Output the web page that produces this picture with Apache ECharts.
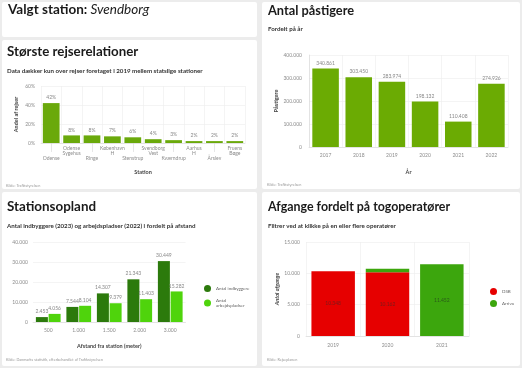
<!DOCTYPE html>
<html><head><meta charset="utf-8">
<script src="https://cdn.jsdelivr.net/npm/echarts@6/dist/echarts.min.js"></script>
<style>html,body{margin:0;padding:0;background:#ececec;}#c{width:522px;height:368px;}</style>
</head><body><div id="c"></div><script>
// ---- data ----
const relStations = ['Odense','Odense\nSygehus','Ringe','København\nH','Stenstrup','Svendborg\nVest','Kværndrup','Aarhus\nH','Årslev','Fruens\nBøge'];
const relShares = [42,8,8,7,6,4,3,2,2,2];
const relTicks = [0,20,40,60];
const boardYears = ['2017','2018','2019','2020','2021','2022'];
const boardings = [340861,303450,283974,198132,110408,274926];
const distances = ['500','1.000','1.500','2.000','3.000'];
const residents = [2453,7544,14307,21343,30449];
const jobs = [4056,8104,9379,11403,15282];
const depYears = ['2019','2020','2021'];
const depDSB = [10348,10162,null];
const depArriva = [null,562,11452];

const F = 'Lato, "Open Sans", sans-serif';
const fmt = n => String(n).replace(/\B(?=(\d{3})+(?!\d))/g,'.');
const axLab = {color:'#8c8c8c', fontSize:5, fontFamily:F};
const gridLine = {show:true, lineStyle:{color:'#ececec', width:0.6}};
const axLine = {show:true, lineStyle:{color:'#d6d6d6', width:0.6}};
const nameStyle = {color:'#444', fontSize:5.5, fontFamily:F, fontWeight:'bold'};

const chart = echarts.init(document.getElementById('c'), null, {renderer:'canvas'});

function card(x,y,w,h){return {type:'rect', shape:{x:x,y:y,width:w,height:h,r:2}, style:{fill:'#fff'}, z:-10, silent:true};}
function ttl(text,left,top,size){return {text:text,left:left,top:top,padding:0,textStyle:{fontFamily:F,fontSize:size,color:'#1a1a1a',fontWeight:'bold'}};}
function sub(text,left,top){return {text:text,left:left,top:top,padding:0,textStyle:{fontFamily:F,fontSize:6.2,color:'#333',fontWeight:'bold'}};}
function src(text,left,top){return {text:text,left:left,top:top,padding:0,textStyle:{fontFamily:F,fontSize:3.8,color:'#999',fontWeight:'normal'}};}

const option = {
  backgroundColor:'#ececec',
  animation:false,
  graphic:[card(2,2,255,35),card(2,40,255,149),card(262,2,258,187),card(2,192,255,174),card(262,192,258,174)],
  title:[
    {text:'{a|Valgt station: }{b|Svendborg}', left:8, top:3, padding:0, textStyle:{rich:{a:{fontFamily:F,fontSize:13.5,color:'#1a1a1a',fontWeight:'bold'},b:{fontFamily:F,fontSize:13.5,color:'#1a1a1a',fontStyle:'italic',fontWeight:'normal'}}}},
    ttl('Største rejserelationer',7,45,13.3),
    sub('Data dækker kun over rejser foretaget i 2019 mellem statslige stationer',7,68),
    src('Kilde: Trafikstyrelsen',6,184),
    ttl('Antal påstigere',268,4,12.8),
    sub('Fordelt på år',268,26),
    src('Kilde: Trafikstyrelsen',267,183),
    ttl('Stationsopland',7,200,13.4),
    sub('Antal indbyggere (2023) og arbejdspladser (2022) i fordelt på afstand',7,223),
    src('Kilde: Danmarks statistik, efterbehandlet af Trafikstyrelsen',6,358),
    ttl('Afgange fordelt på togoperatører',268,200.5,12.4),
    sub('Filtrer ved at klikke på en eller flere operatører',268,223),
    src('Kilde: Rejseplanen',267,358)
  ],
  legend:[
    {orient:'vertical', left:199, top:280, itemWidth:7, itemHeight:7, itemGap:6, icon:'circle',
     data:['Antal indbyggere','Antal arbejdspladser'],
     formatter:n => n==='Antal arbejdspladser' ? 'Antal\narbejdspladser' : n,
     textStyle:{fontFamily:F,fontSize:4.5,color:'#666',lineHeight:5}},
    {orient:'vertical', left:485, top:283, itemWidth:7, itemHeight:7, itemGap:5, icon:'circle',
     data:['DSB','Arriva'], textStyle:{fontFamily:F,fontSize:4.5,color:'#666'}}
  ],
  grid:[
    {left:41, top:86, width:204, height:57},
    {left:309, top:55, width:199, height:92},
    {left:33, top:242, width:152.5, height:80},
    {left:306, top:242, width:163, height:94}
  ],
  xAxis:[
    {gridIndex:0, type:'category', data:relStations,
     axisLine:axLine, splitLine:gridLine,
     axisTick:{show:true, alignWithLabel:true, length:9, interval:(i)=>i%2===0, lineStyle:{color:'#d6d6d6',width:0.6}},
     axisLabel:Object.assign({}, axLab, {interval:0, margin:3, lineHeight:5, formatter:(v,i)=> i%2===0 ? '\n\n'+v : v}),
     name:'Station', nameLocation:'middle', nameGap:26, nameTextStyle:nameStyle},
    {gridIndex:1, type:'category', data:boardYears,
     axisLine:axLine, axisTick:{show:false}, splitLine:gridLine,
     axisLabel:Object.assign({}, axLab, {margin:6}),
     name:'År', nameLocation:'middle', nameGap:22, nameTextStyle:nameStyle},
    {gridIndex:2, type:'category', data:distances,
     axisLine:axLine, axisTick:{show:false}, splitLine:{show:false},
     axisLabel:Object.assign({}, axLab, {margin:6}),
     name:'Afstand fra station (meter)', nameLocation:'middle', nameGap:21, nameTextStyle:nameStyle},
    {gridIndex:3, type:'category', data:depYears,
     axisLine:axLine, axisTick:{show:false}, splitLine:gridLine,
     axisLabel:Object.assign({}, axLab, {margin:7})}
  ],
  yAxis:[
    {gridIndex:0, type:'value', min:relTicks[0], max:relTicks[relTicks.length-1], interval:20,
     axisLine:{show:false}, splitLine:gridLine,
     axisLabel:Object.assign({}, axLab, {margin:6, formatter:'{value}%'}),
     name:'Andel af rejser', nameLocation:'middle', nameGap:22, nameTextStyle:nameStyle},
    {gridIndex:1, type:'value', min:0, max:400000, interval:100000,
     axisLine:axLine, splitLine:gridLine,
     axisLabel:Object.assign({}, axLab, {margin:7, formatter:fmt}),
     name:'Påstigere', nameLocation:'middle', nameGap:29, nameTextStyle:nameStyle},
    {gridIndex:2, type:'value', min:0, max:40000, interval:10000,
     axisLine:{show:false}, splitLine:gridLine,
     axisLabel:Object.assign({}, axLab, {margin:5, formatter:fmt})},
    {gridIndex:3, type:'value', min:0, max:15000, interval:5000,
     axisLine:{show:false}, splitLine:gridLine,
     axisLabel:Object.assign({}, axLab, {margin:6, formatter:fmt}),
     name:'Antal afgange', nameLocation:'middle', nameGap:26, nameTextStyle:Object.assign({},nameStyle,{fontStyle:'italic'})}
  ],
  series:[
    {type:'bar', xAxisIndex:0, yAxisIndex:0, data:relShares, barWidth:'82%', itemStyle:{color:'#6aa90b'},
     label:{show:true, position:'top', distance:3, formatter:p=>p.value+'%', color:'#888', fontSize:5, fontFamily:F}},
    {type:'bar', xAxisIndex:1, yAxisIndex:1, data:boardings, barWidth:'80%', itemStyle:{color:'#6bab03'},
     label:{show:true, position:'top', distance:3, formatter:p=>fmt(p.value), color:'#888', fontSize:5, fontFamily:F}},
    {name:'Antal indbyggere', type:'bar', xAxisIndex:2, yAxisIndex:2, data:residents, barWidth:12, barGap:'6%', itemStyle:{color:'#2c7a0c'},
     label:{show:true, position:'top', distance:3, formatter:p=>fmt(p.value), color:'#888', fontSize:5, fontFamily:F}},
    {name:'Antal arbejdspladser', type:'bar', xAxisIndex:2, yAxisIndex:2, data:jobs, barWidth:12, barGap:'6%', itemStyle:{color:'#4fd40c'},
     label:{show:true, position:'top', distance:3, formatter:p=>fmt(p.value), color:'#888', fontSize:5, fontFamily:F}},
    {name:'DSB', type:'bar', stack:'op', xAxisIndex:3, yAxisIndex:3, data:depDSB, barWidth:'80%', itemStyle:{color:'#e60000'},
     label:{show:true, position:'inside', formatter:p=> p.value>2000 ? fmt(p.value) : '', color:'#7a1a1a', fontSize:5, fontFamily:F}},
    {name:'Arriva', type:'bar', stack:'op', xAxisIndex:3, yAxisIndex:3, data:depArriva, barWidth:'80%', itemStyle:{color:'#3ca60d'},
     label:{show:true, position:'inside', formatter:p=> p.value>2000 ? fmt(p.value) : '', color:'#2a5a1a', fontSize:5, fontFamily:F}}
  ]
};
chart.setOption(option);
</script></body></html>
